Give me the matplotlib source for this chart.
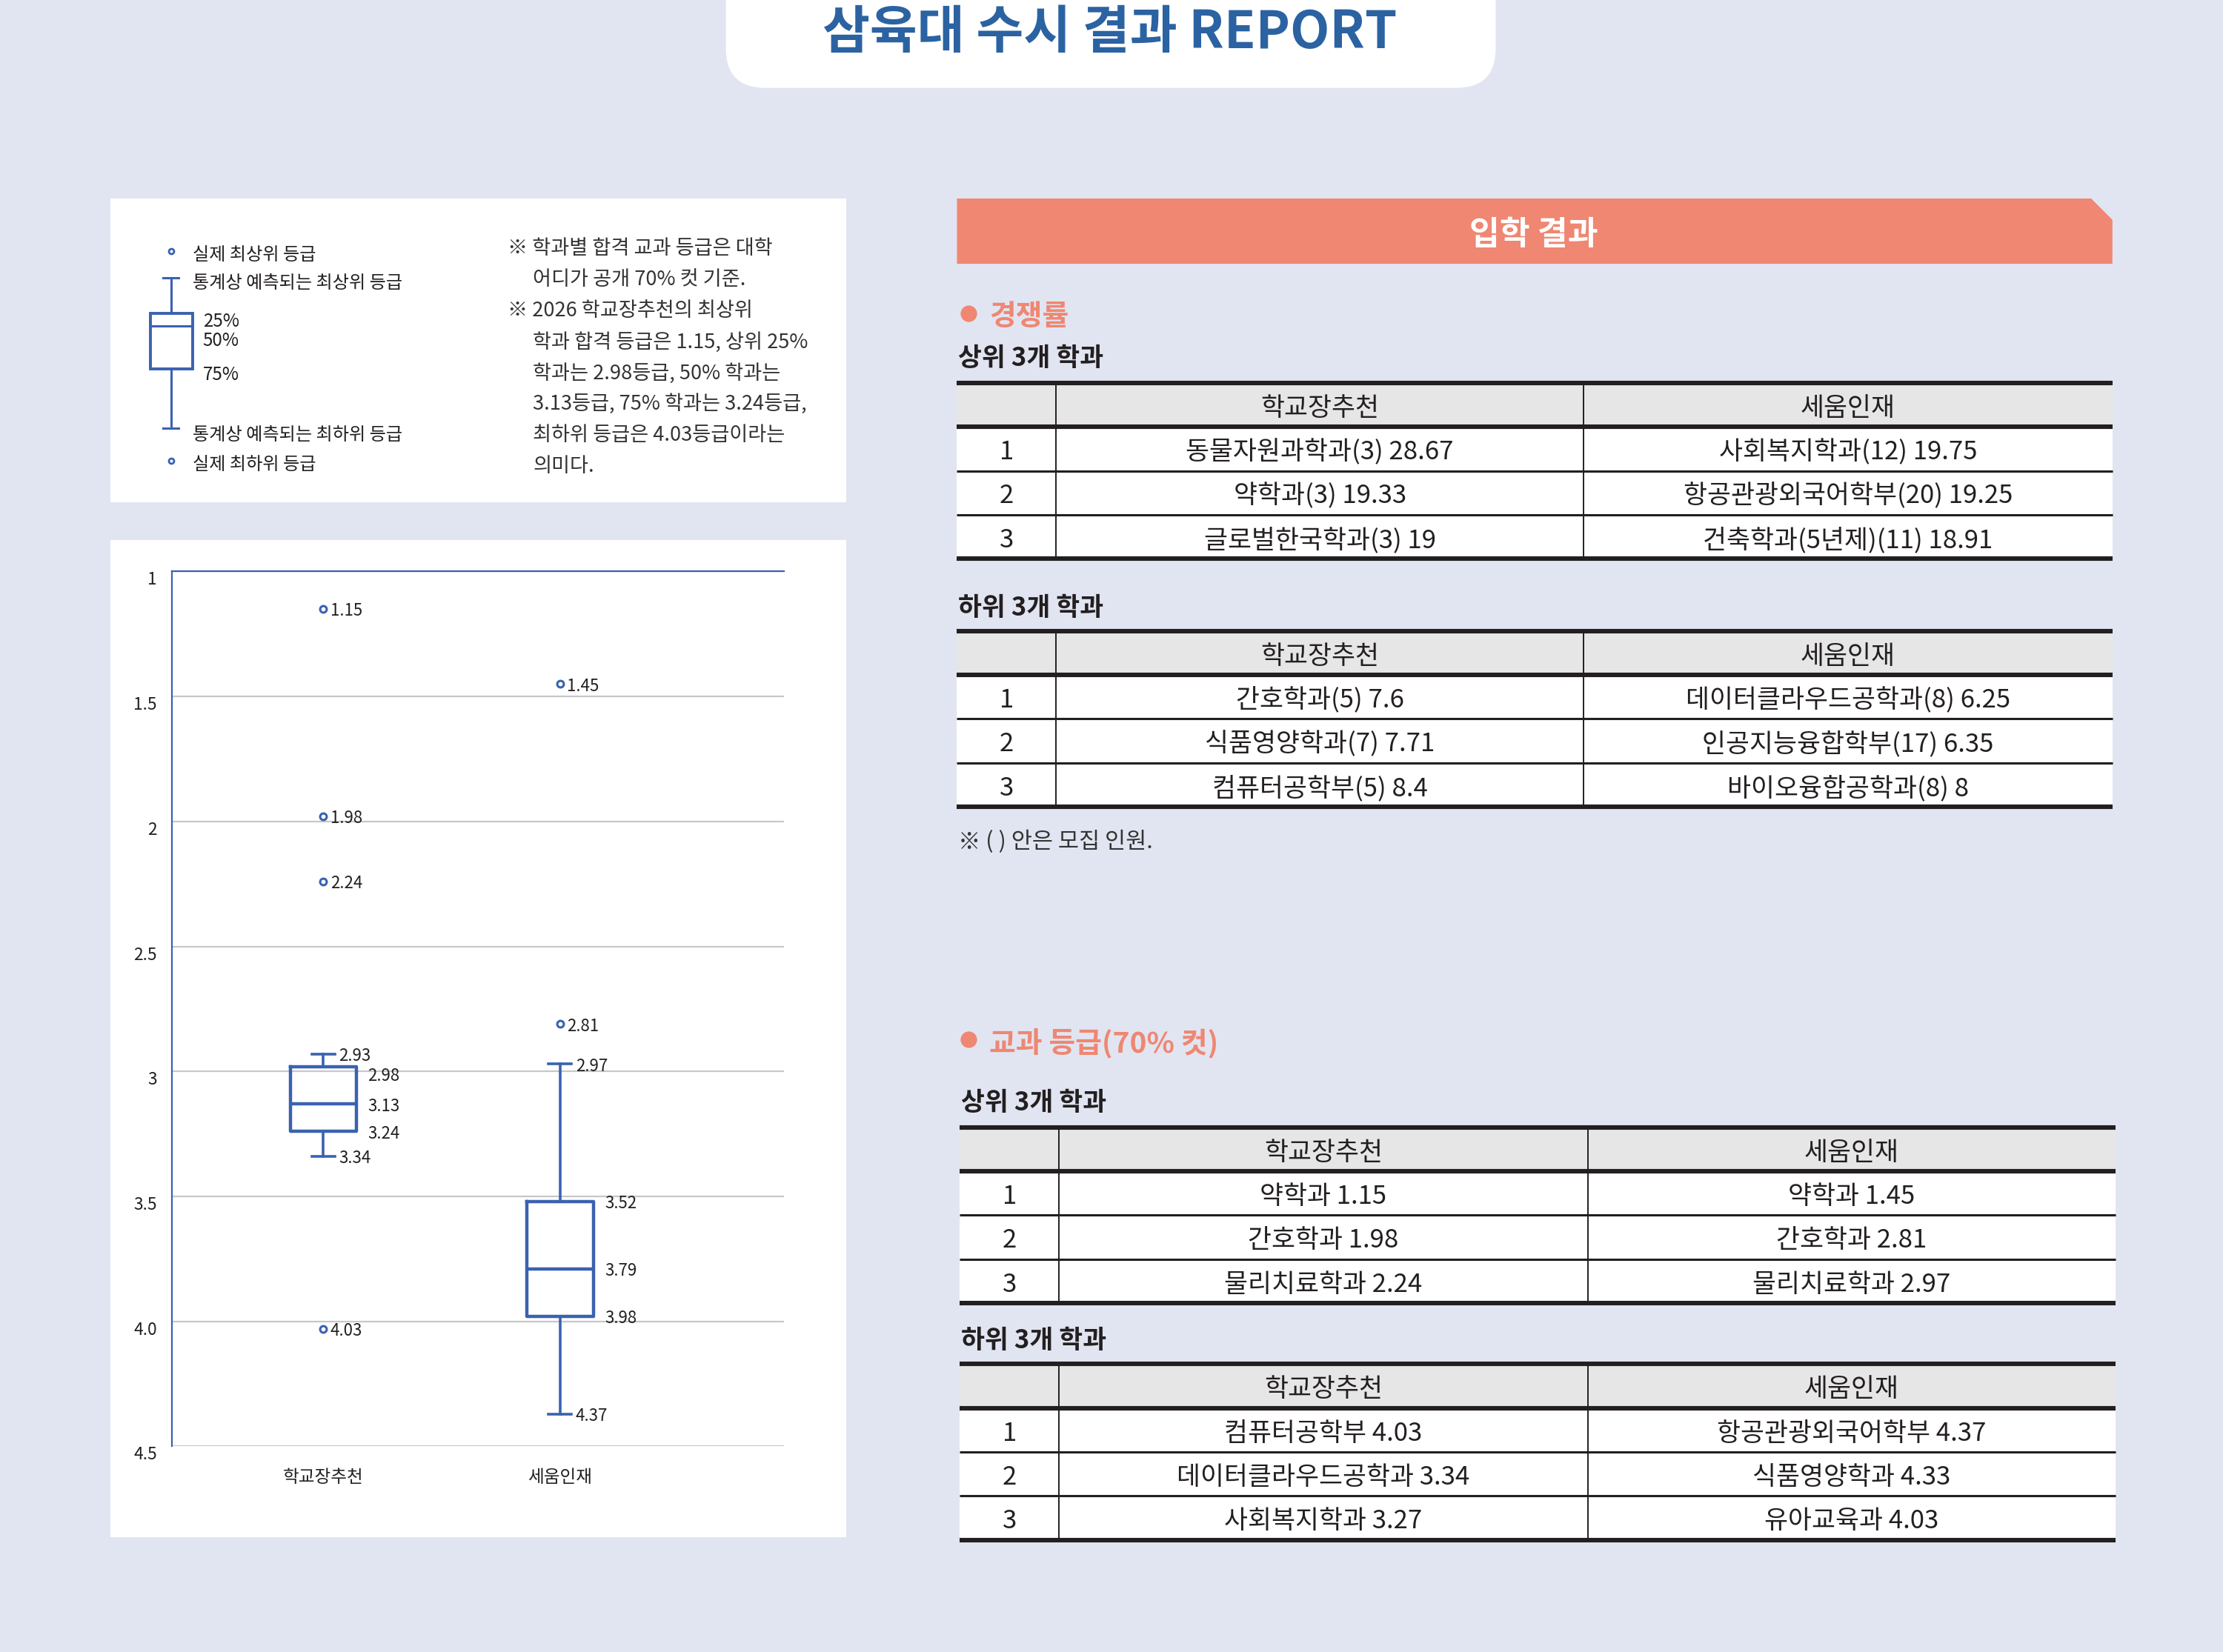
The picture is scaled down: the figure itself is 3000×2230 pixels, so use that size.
import matplotlib
matplotlib.use('Agg')
import matplotlib.pyplot as plt
from matplotlib.patches import Rectangle, FancyBboxPatch, Polygon

plt.rcParams['font.family'] = ['Noto Sans CJK KR', 'DejaVu Sans']

# ---- box plot data (교과 등급 70% 컷) ----
categories = ['학교장추천', '세움인재']
whis_top = [2.93, 2.97]
q1 = [2.98, 3.52]
median = [3.13, 3.79]
q3 = [3.24, 3.98]
whis_bottom = [3.34, 4.37]
outliers = [[1.15, 1.98, 2.24, 4.03], [1.45, 2.81]]
y_ticks = [1, 1.5, 2, 2.5, 3, 3.5, 4.0, 4.5]
y_tick_labels = ['1', '1.5', '2', '2.5', '3', '3.5', '4.0', '4.5']

# ---- table data ----
table_cols = ['학교장추천', '세움인재']
comp_top_school = ['동물자원과학과(3) 28.67', '약학과(3) 19.33', '글로벌한국학과(3) 19']
comp_top_seum = ['사회복지학과(12) 19.75', '항공관광외국어학부(20) 19.25', '건축학과(5년제)(11) 18.91']
comp_bot_school = ['간호학과(5) 7.6', '식품영양학과(7) 7.71', '컴퓨터공학부(5) 8.4']
comp_bot_seum = ['데이터클라우드공학과(8) 6.25', '인공지능융합학부(17) 6.35', '바이오융합공학과(8) 8']
grade_top_school = ['약학과 1.15', '간호학과 1.98', '물리치료학과 2.24']
grade_top_seum = ['약학과 1.45', '간호학과 2.81', '물리치료학과 2.97']
grade_bot_school = ['컴퓨터공학부 4.03', '데이터클라우드공학과 3.34', '사회복지학과 3.27']
grade_bot_seum = ['항공관광외국어학부 4.37', '식품영양학과 4.33', '유아교육과 4.03']

notes = [
    ('※ 학과별 합격 교과 등급은 대학', 0),
    ('어디가 공개 70% 컷 기준.', 1),
    ('※ 2026 학교장추천의 최상위', 0),
    ('학과 합격 등급은 1.15, 상위 25%', 1),
    ('학과는 2.98등급, 50% 학과는', 1),
    ('3.13등급, 75% 학과는 3.24등급,', 1),
    ('최하위 등급은 4.03등급이라는', 1),
    ('의미다.', 1),
]

BG = '#e1e5f1'
BLUE = '#3a62b0'
TITLE_BLUE = '#2b62a2'
SALMON = '#ef8772'
INK = '#231f20'
W, H = 1568, 1165          # layout grid (px of the page)
PT = 1080 / W              # points per layout px
DY = 2.5                   # CJK text sits a bit high with va='center'

fig = plt.figure(figsize=(15, 11.15), dpi=200, facecolor=BG)
ax0 = fig.add_axes([0, 0, 1, 1])
ax0.set_xlim(0, W)
ax0.set_ylim(H, 0)
ax0.axis('off')


def txt(x, y, s, **kw):
    kw.setdefault('va', 'center')
    kw.setdefault('color', INK)
    return ax0.text(x, y + DY, s, **kw)


# title box
ax0.add_patch(FancyBboxPatch((512, -40), 543, 102, boxstyle='round,pad=0,rounding_size=28',
                             fc='white', ec='none'))
txt(783, 21, '삼육대 수시 결과 REPORT', ha='center', fontsize=25,
    fontweight='bold', color=TITLE_BLUE)

# white panels on the left
ax0.add_patch(Rectangle((78, 140), 519, 214, fc='white', ec='none'))
ax0.add_patch(Rectangle((78, 381), 519, 703, fc='white', ec='none'))

# legend glyph
lg = dict(color=BLUE, lw=1.1)
ax0.plot([120.5], [177], 'o', ms=2.5, mfc='white', mec=BLUE, mew=1)
ax0.plot([120.5], [325], 'o', ms=2.5, mfc='white', mec=BLUE, mew=1)
ax0.plot([115, 126], [196, 196], **lg)
ax0.plot([120.5, 120.5], [196, 221], **lg)
ax0.add_patch(Rectangle((106, 221), 30, 39, fc='none', ec=BLUE, lw=1.4))
ax0.plot([106, 136], [230, 230], color=BLUE, lw=1.1)
ax0.plot([120.5, 120.5], [260, 302], **lg)
ax0.plot([115, 126], [302, 302], **lg)
lt = dict(fontsize=8.7, ha='left')
txt(136, 177, '실제 최상위 등급', **lt)
txt(136, 197, '통계상 예측되는 최상위 등급', **lt)
txt(143, 224, '25%', **lt)
txt(143, 238, '50%', **lt)
txt(143, 262, '75%', **lt)
txt(136, 304, '통계상 예측되는 최하위 등급', **lt)
txt(136, 325, '실제 최하위 등급', **lt)

for i, (line, indent) in enumerate(notes):
    txt(358 + 18 * indent, 173 + 21.9 * i, line, fontsize=9.8, color='#333333', ha='left')

# right side: banner and headings
ax0.add_patch(Polygon([(675, 140), (1475, 140), (1490, 155), (1490, 186), (675, 186)],
                      closed=True, fc=SALMON, ec='none'))
txt(1082, 163, '입학 결과', ha='center', fontsize=16, fontweight='bold', color='white')


def heading(x, y, text):
    ax0.plot([x + 7], [y], 'o', ms=7, color=SALMON)
    txt(x + 22, y, text, fontsize=14, fontweight='bold', color=SALMON, ha='left')


def sub(x, y, text):
    txt(x, y, text, fontsize=12.5, fontweight='bold', ha='left')


def draw_table(x0, xa, xb, x1, y0, col_a, col_b, rh=31):
    ax0.add_patch(Rectangle((x0, y0), x1 - x0, rh, fc='#e6e6e6', ec='none'))
    ax0.add_patch(Rectangle((x0, y0 + rh), x1 - x0, rh * len(col_a), fc='white', ec='none'))
    txt((xa + xb) / 2, y0 + rh / 2, table_cols[0], ha='center', fontsize=12.5, fontweight='medium')
    txt((xb + x1) / 2, y0 + rh / 2, table_cols[1], ha='center', fontsize=12.5, fontweight='medium')
    for i, (a, b) in enumerate(zip(col_a, col_b)):
        yc = y0 + rh * (i + 1.5)
        txt((x0 + xa) / 2, yc, str(i + 1), ha='center', fontsize=12.5)
        txt((xa + xb) / 2, yc, a, ha='center', fontsize=12.5)
        txt((xb + x1) / 2, yc, b, ha='center', fontsize=12.5)
    y_end = y0 + rh * (len(col_a) + 1)
    for xv in (xa, xb):
        ax0.plot([xv, xv], [y0, y_end], color=INK, lw=0.7)
    for yv in (y0, y0 + rh, y_end):
        ax0.plot([x0, x1], [yv, yv], color=INK, lw=2.2, solid_capstyle='butt')
    for k in range(2, len(col_a) + 1):
        ax0.plot([x0, x1], [y0 + rh * k, y0 + rh * k], color=INK, lw=1.1,
                 solid_capstyle='butt')


heading(676, 221, '경쟁률')
sub(676, 250, '상위 3개 학과')
draw_table(675, 745, 1117, 1490, 270, comp_top_school, comp_top_seum)
sub(676, 426, '하위 3개 학과')
draw_table(675, 745, 1117, 1490, 445, comp_bot_school, comp_bot_seum)
txt(676, 591, '※ ( ) 안은 모집 인원.', fontsize=11, color='#333333', ha='left')

heading(676, 733, '교과 등급(70% 컷)')
sub(678, 775, '상위 3개 학과')
draw_table(677, 747, 1120, 1492, 795, grade_top_school, grade_top_seum)
sub(678, 943, '하위 3개 학과')
draw_table(677, 747, 1120, 1492, 962, grade_bot_school, grade_bot_seum)

# ---- box plot ----
ax = fig.add_axes([121 / W, 1 - 1020 / H, 432 / W, 617 / H])
ax.set_facecolor('none')
stats = []
for i, name in enumerate(categories):
    stats.append(dict(label=name, whislo=whis_top[i], q1=q1[i], med=median[i], q3=q3[i],
                      whishi=whis_bottom[i], fliers=outliers[i]))
positions = [1, 2]
box_w = 0.28
cap_w = 0.096
ax.bxp(stats, positions=positions, widths=box_w, capwidths=cap_w, showfliers=True,
       boxprops=dict(color=BLUE, lw=1.6),
       medianprops=dict(color=BLUE, lw=1.6),
       whiskerprops=dict(color=BLUE, lw=1.3),
       capprops=dict(color=BLUE, lw=1.3),
       flierprops=dict(marker='o', ms=3.2, mfc='white', mec=BLUE, mew=1.1))

ax.set_xlim(0.359, 2.946)
ax.set_ylim(4.5, 1)
ax.set_yticks(y_ticks)
ax.set_yticklabels(y_tick_labels)
for lbl in ax.get_yticklabels():
    lbl.set_va('top')
ax.tick_params(axis='y', length=0, pad=7, labelsize=8.2, labelcolor=INK)
ax.tick_params(axis='x', length=0, pad=11, labelsize=8.5, labelcolor=INK)
ax.yaxis.grid(True, color='#c8c8c8', lw=0.8)
ax.set_axisbelow(True)
for s in ('right', 'bottom'):
    ax.spines[s].set_visible(False)
for s in ('left', 'top'):
    ax.spines[s].set_color(BLUE)
    ax.spines[s].set_linewidth(0.8)

lab = dict(textcoords='offset points', fontsize=8, color=INK, va='center', ha='left')
for i, p in enumerate(positions):
    for v in outliers[i]:
        ax.annotate(f'{v:.2f}', (p, v), xytext=(5 * PT, -1.5 * PT), **lab)
    for v in (whis_top[i], whis_bottom[i]):
        ax.annotate(f'{v:.2f}', (p + cap_w / 2, v), xytext=(3 * PT, -1.5 * PT), **lab)
    for v in (q1[i], median[i], q3[i]):
        dy = -1.5 * PT
        if v == q1[i] and q1[i] - whis_top[i] < 0.1:
            dy = -7 * PT
        ax.annotate(f'{v:.2f}', (p + box_w / 2, v), xytext=(8 * PT, dy), **lab)

fig.savefig('out.png', dpi=200, facecolor=BG)
